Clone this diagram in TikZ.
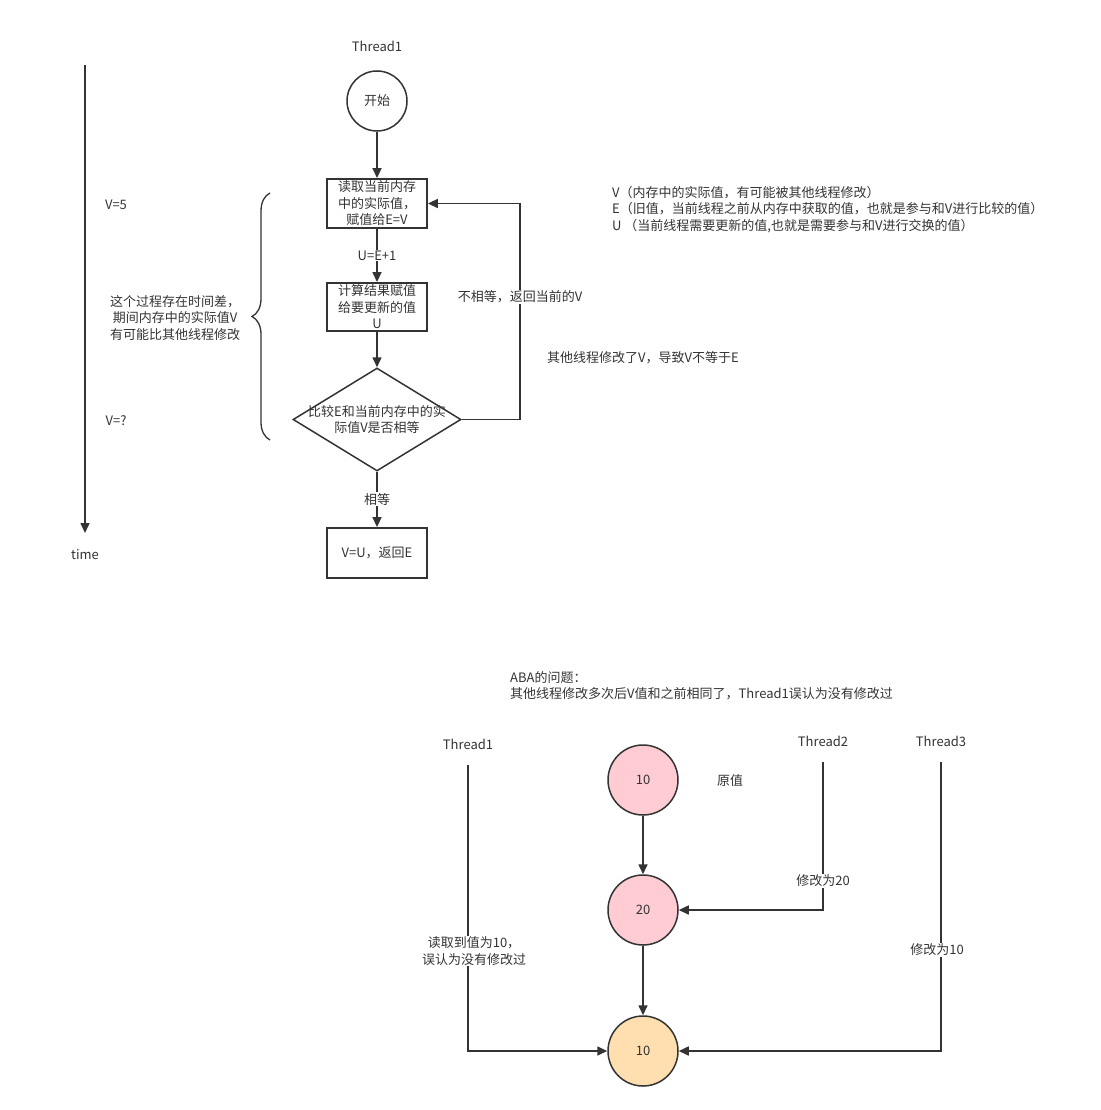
\documentclass[tikz,border=0pt]{standalone}
\usepackage{fontspec}
\setmainfont{Noto Sans CJK SC}
\usetikzlibrary{arrows.meta,shapes.geometric,decorations.pathreplacing}
\definecolor{ink}{HTML}{333333}
\definecolor{pinkfill}{HTML}{FFCCD4}
\definecolor{orangefill}{HTML}{FFDFB0}
\begin{document}
\begin{tikzpicture}[x=1pt,y=-1pt,
  every node/.style={text=ink,font=\fontsize{13}{16.5}\selectfont,inner sep=1pt},
  arr/.style={draw=ink,line width=1.6pt,-{Triangle[length=10pt,width=9pt]}},
  plain/.style={draw=ink,line width=1.6pt},
  stepbox/.style={draw=ink,line width=1.8pt,minimum width=100pt,minimum height=47pt,align=center,inner sep=2pt},
  ring/.style={circle,draw=ink,line width=1.5pt,minimum size=70pt,inner sep=0pt},
  lbl/.style={fill=white,inner sep=1pt,align=center}
]
\useasboundingbox (0,0) rectangle (1100,1110);

% ---------------- CAS flow ----------------
% time axis
\coordinate (t0) at (85,65);
\coordinate (t1) at (85,533);
\draw[arr] (t0) -- (t1);
\node (timelbl) at (85,555) {time};

\node (th) at (377,46) {Thread1};
\node[circle,draw=ink,line width=1.5pt,minimum size=60pt,inner sep=0pt] (start) at (377,101) {开始};
\node[stepbox] (read) at (377,203.5) {读取当前内存\\中的实际值，\\赋值给E=V};
\node[stepbox,minimum height=48pt] (calc) at (377,307) {计算结果赋值\\给要更新的值\\U};
\node[diamond,draw=ink,line width=1.5pt,minimum width=168pt,minimum height=103pt,inner sep=0pt,
  label={[align=center]center:比较E和当前内存中的实\\际值V是否相等}] (cmp) at (377,419.5) {};
\node[stepbox,minimum height=50pt] (done) at (377,553) {V=U，返回E};

\draw[arr] (start) -- (read);
\draw[arr] (read) -- node[lbl] {U=E+1} (calc);
\draw[arr] (calc) -- (cmp);
\draw[arr] (cmp) -- node[lbl] {相等} (done);

% retry loop
\coordinate (loopc) at (520,419.5);
\draw[arr] (cmp.east) -- (loopc) |- (read.east);
\node[lbl] (neq) at (520,297) {不相等，返回当前的V};
\node (why) at (643,358) {其他线程修改了V，导致V不等于E};

% time gap brace
\coordinate (b0) at (270,440);
\coordinate (b1) at (270,193);
\draw[draw=ink,line width=1.3pt,decorate,decoration={brace,amplitude=18pt}] (b0) -- (b1);
\node (v5) at (116,205) {V=5};
\node[align=center] (gap) at (175,318) {这个过程存在时间差，\\期间内存中的实际值V\\有可能比其他线程修改};
\node (vq) at (116,421) {V=?};

% legend
\node[anchor=west,align=left] (legend) at (611,209.5) {V（内存中的实际值，有可能被其他线程修改）\\E（旧值，当前线程之前从内存中获取的值，也就是参与和V进行比较的值）\\U （当前线程需要更新的值,也就是需要参与和V进行交换的值）};

% ---------------- ABA ----------------
\node[anchor=west,align=left] (aba) at (509,685.5) {ABA的问题：\\其他线程修改多次后V值和之前相同了，Thread1误认为没有修改过};

\node (ta) at (468,744) {Thread1};
\node (tb) at (823,741) {Thread2};
\node (tc) at (941,741) {Thread3};

\node[ring,fill=pinkfill] (c1) at (643,780) {10};
\node[ring,fill=pinkfill] (c2) at (643,910) {20};
\node[ring,fill=orangefill] (c3) at (643,1051) {10};
\node (orig) at (730,781) {原值};

\draw[arr] (c1) -- (c2);
\draw[arr] (c2) -- (c3);

\coordinate (ta0) at (468,765);
\coordinate (tb0) at (823,762);
\coordinate (tc0) at (941,762);
\draw[arr] (ta0) |- (c3.west);
\draw[arr] (tb0) |- (c2.east);
\draw[arr] (tc0) |- (c3.east);

\node[lbl] (ra) at (474,951) {读取到值为10，\\误认为没有修改过};
\node[lbl] (rb) at (823,881) {修改为20};
\node[lbl] (rc) at (937,950) {修改为10};
\end{tikzpicture}
\end{document}
